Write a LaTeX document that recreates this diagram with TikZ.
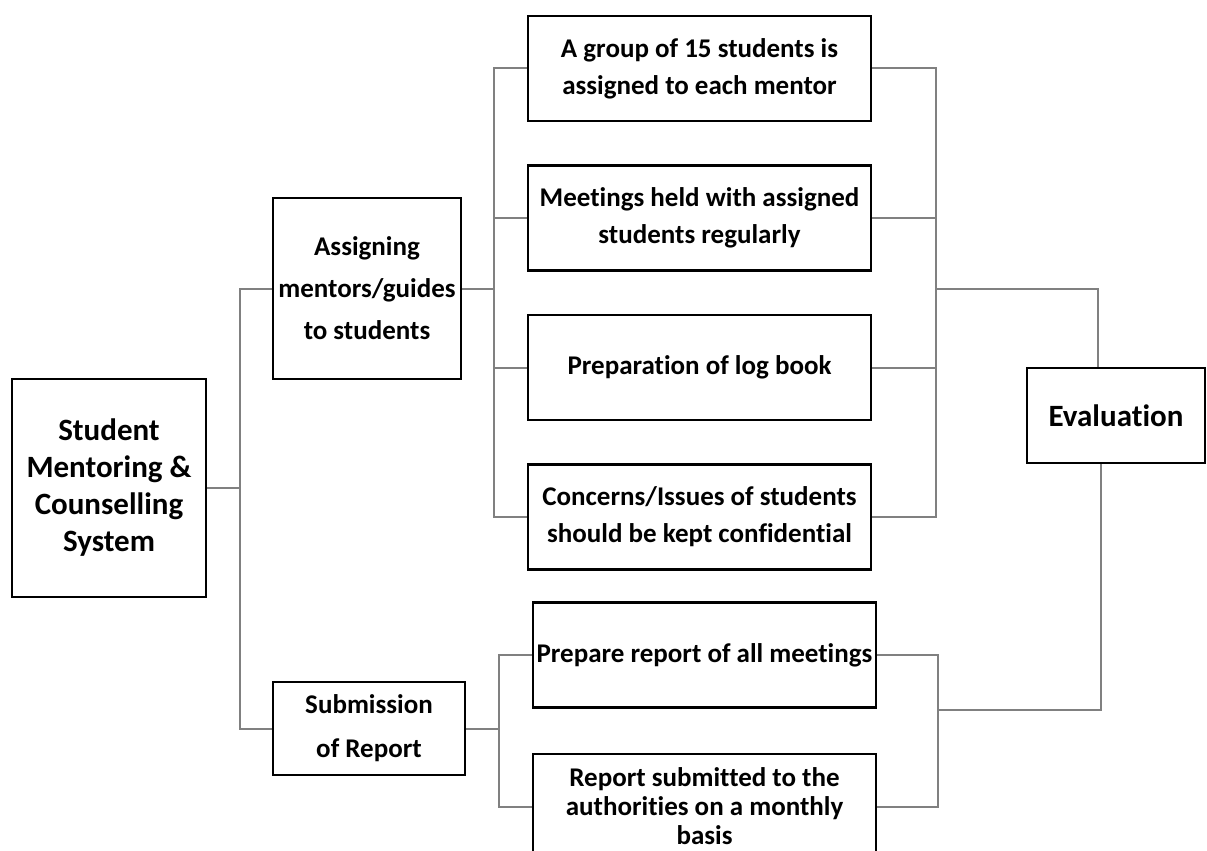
\documentclass[tikz,border=0pt]{standalone}
\usepackage{fontspec}
\setmainfont{Carlito}[Ligatures={NoCommon}]
\usetikzlibrary{positioning}
\tikzset{
    every node/.style={font=\bfseries\fontsize{27}{37}\selectfont},
    big/.style={font=\bfseries\fontsize{31}{37}\selectfont},
    box/.style={draw=black,line width=2.5pt,align=center,inner xsep=0pt,inner ysep=2pt},
    topic/.style={box,minimum width=343pt,minimum height=105pt},
    link/.style={draw=black!50,line width=2pt}
}

\begin{document}
\begin{tikzpicture}[x=1pt,y=-1pt,node distance=42pt]
    \useasboundingbox (0,0) rectangle (1207,851);
    \node[box,big,minimum width=194pt,minimum height=218pt] (sys) at (109,488) {Student\\Mentoring \&\\Counselling\\System};
    \node[box,minimum width=188pt,minimum height=181pt,font=\bfseries\fontsize{27}{42}\selectfont] (assign) at (367,288.5) {Assigning\\mentors/guides\\to students};
    \node[box,minimum width=192pt,minimum height=93pt,font=\bfseries\fontsize{27}{44}\selectfont] (submit) at (369,728.5) {Submission\\of Report};
    \node[topic] (group) at (699.5,68.5) {A group of 15 students is\\assigned to each mentor};
    \node[topic,below=of group] (meet) {Meetings held with assigned\\students regularly};
    \node[topic,below=of meet] (logbook) {Preparation of log book};
    \node[topic,below=of logbook] (confid) {Concerns/Issues of students\\should be kept confidential};
    \node[topic] (prep) at (704.5,655) {Prepare report of all meetings};
    \node[topic,below=44pt of prep,font=\bfseries\fontsize{27}{29}\selectfont] (monthly) {Report submitted to the\\authorities on a monthly\\basis};
    \node[box,big,minimum width=178pt,minimum height=95pt] (eval) at (1116,415.5) {Evaluation};
    % joints
    \coordinate (j1) at (240,488);
    \coordinate (j2) at (494,288.5);
    \coordinate (j3) at (936,289);
    \coordinate (j4) at (938,710);
    \coordinate (j5) at (499,728.5);
    \coordinate (e1) at (1098,289);
    \coordinate (e2) at (1101,710);
    % left tree
    \draw[link] (sys.east) -- (j1);
    \draw[link] (assign.west) -| (j1) |- (submit.west);
    \draw[link] (assign.east) -- (j2);
    \draw[link] (group.west) -| (j2) |- (confid.west);
    \draw[link] (meet.west) -- (meet.west -| j2);
    \draw[link] (logbook.west) -- (logbook.west -| j2);
    \draw[link] (submit.east) -- (j5);
    \draw[link] (prep.west) -| (j5) |- (monthly.west);
    % right tree
    \draw[link] (group.east) -| (j3) |- (confid.east);
    \draw[link] (meet.east) -- (meet.east -| j3);
    \draw[link] (logbook.east) -- (logbook.east -| j3);
    \draw[link] (j3) -- (e1) -- (e1 |- eval.north);
    \draw[link] (prep.east) -| (j4) |- (monthly.east);
    \draw[link] (j4) -- (e2) -- (e2 |- eval.south);
\end{tikzpicture}
\end{document}
